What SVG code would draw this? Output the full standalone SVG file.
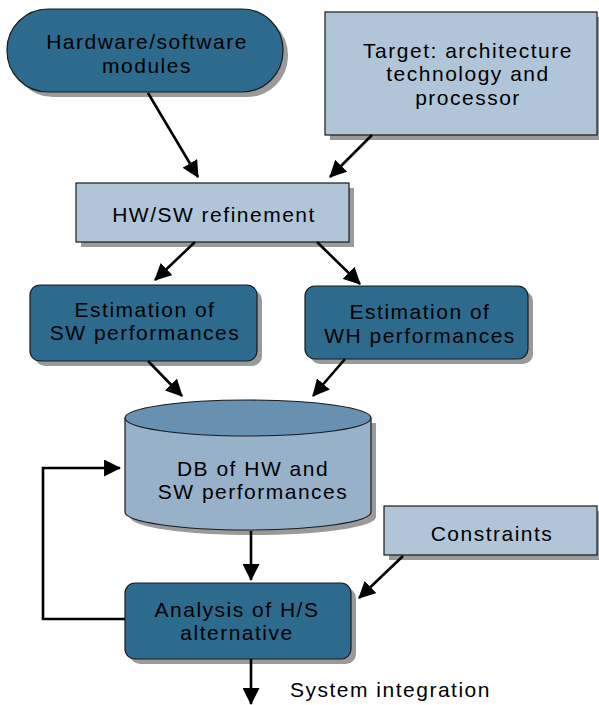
<svg xmlns="http://www.w3.org/2000/svg" width="599" height="705" viewBox="0 0 599 705">
  <defs>
    <marker id="arrow" markerUnits="userSpaceOnUse" markerWidth="17" markerHeight="17" viewBox="0 0 16 16" refX="15" refY="8" orient="auto">
      <path d="M0,0 L16,8 L0,16 Z" fill="#000"/>
    </marker>
  </defs>
  <style>
    .dark { fill: #2c6a8e; stroke: #1a1a1a; stroke-width: 1.2; }
    .light { fill: #b1c5d8; stroke: #1a1a1a; stroke-width: 1.2; }
    .shadow { fill: #9a9a9a; }
    .cyl-body { fill: #97b1c9; stroke: #1a1a1a; stroke-width: 1.2; }
    .cyl-top { fill: #6890b0; stroke: #1a1a1a; stroke-width: 1.2; }
    text { font-family: "Liberation Sans", Arial, sans-serif; font-size: 21px; fill: #000; text-anchor: middle; letter-spacing: 1.5px; }
    .edge { fill: none; stroke: #000; stroke-width: 2.6; marker-end: url(#arrow); }
  </style>
  <rect width="599" height="705" fill="#fff"/>

  <g id="hw-sw-modules">
    <rect class="shadow" x="12" y="14" width="276" height="83" rx="41"/>
    <rect class="dark" x="7" y="9" width="276" height="83" rx="41"/>
    <text x="147" y="49">Hardware/software</text>
    <text x="147" y="72.5">modules</text>
  </g>

  <g id="target">
    <rect class="shadow" x="330" y="17" width="269" height="123"/>
    <rect class="light" x="325" y="12" width="272" height="123"/>
    <text x="468" y="57.5">Target: architecture</text>
    <text x="468" y="81">technology and</text>
    <text x="468" y="104.5">processor</text>
  </g>

  <g id="refinement">
    <rect class="shadow" x="81" y="188" width="273" height="59"/>
    <rect class="light" x="76" y="183" width="273" height="59"/>
    <text x="214" y="222">HW/SW refinement</text>
  </g>

  <g id="est-sw">
    <rect class="shadow" x="35" y="290" width="227" height="76" rx="10"/>
    <rect class="dark" x="30" y="285" width="227" height="76" rx="10"/>
    <text x="145" y="316.5">Estimation of</text>
    <text x="145" y="340">SW performances</text>
  </g>

  <g id="est-wh">
    <rect class="shadow" x="310" y="291" width="223" height="73" rx="10"/>
    <rect class="dark" x="305" y="286" width="223" height="73" rx="10"/>
    <text x="420" y="319">Estimation of</text>
    <text x="420" y="343">WH performances</text>
  </g>

  <g id="db">
    <path class="shadow" d="M130,423 V517 A123,18 0 0 0 376,517 V423 Z"/>
    <path class="cyl-body" d="M125,418 V512 A123,18 0 0 0 371,512 V418"/>
    <ellipse class="cyl-top" cx="248" cy="418" rx="123" ry="18"/>
    <text x="253" y="475.5">DB of HW and</text>
    <text x="253" y="499">SW performances</text>
  </g>

  <g id="constraints">
    <rect class="shadow" x="389" y="511" width="210" height="49"/>
    <rect class="light" x="384" y="506" width="213" height="49"/>
    <text x="492" y="541">Constraints</text>
  </g>

  <g id="analysis">
    <rect class="shadow" x="130" y="588" width="226" height="76" rx="10"/>
    <rect class="dark" x="125" y="583" width="226" height="76" rx="10"/>
    <text x="237" y="616.5">Analysis of H/S</text>
    <text x="237" y="640">alternative</text>
  </g>

  <g id="connectors">
    <line class="edge" x1="148" y1="93" x2="198" y2="177"/>
    <line class="edge" x1="372" y1="135" x2="330" y2="177"/>
    <line class="edge" x1="195" y1="242" x2="155" y2="280"/>
    <line class="edge" x1="317" y1="242" x2="360" y2="284"/>
    <line class="edge" x1="148" y1="361" x2="182" y2="396"/>
    <line class="edge" x1="345" y1="359" x2="313" y2="396"/>
    <line class="edge" x1="251" y1="531" x2="251" y2="580"/>
    <line class="edge" x1="403" y1="556" x2="359" y2="598"/>
    <path class="edge" d="M125,619 H43 V468 H120"/>
    <line class="edge" x1="251" y1="659" x2="251" y2="704"/>
    <text x="290" y="697" style="text-anchor:start">System integration</text>
  </g>
</svg>
